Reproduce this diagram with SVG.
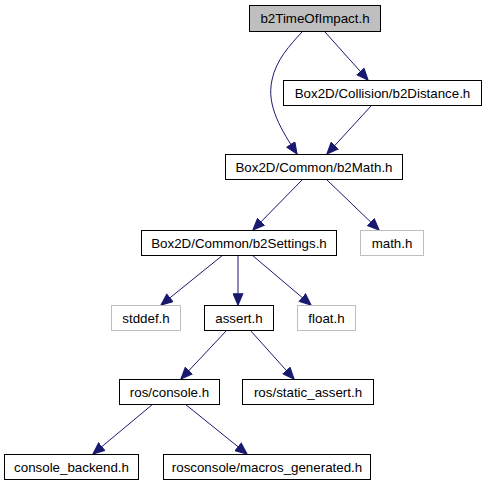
<svg xmlns="http://www.w3.org/2000/svg" width="487" height="485" viewBox="0 0 487 485">
<style>
.n rect{fill:#fff;stroke:#000;stroke-width:1}
.n.g rect{stroke:#bfbfbf}
.n.root rect{fill:#bfbfbf}
.n text{font-family:"Liberation Sans",Arial,sans-serif;font-size:13.33px;text-anchor:middle;fill:#000}
.e path{fill:none;stroke:#191970;stroke-width:1;marker-end:url(#ah)}
</style>
<defs>
<marker id="ah" markerUnits="userSpaceOnUse" markerWidth="13" markerHeight="11" viewBox="0 0 11 9" refX="10" refY="4.5" orient="auto">
<path d="M0.5,0.5 L10,4.5 L0.5,8.5 Z" fill="#191970" stroke="#191970"/>
</marker>
</defs>
<rect width="487" height="485" fill="#fff"/>
<g id="edges" class="e">
<path d="M302,32 C290,45 276,60 272,80 C266,106 282,131 297,154"/>
<path d="M325,32 L368,80"/>
<path d="M371,106 L327,154"/>
<path d="M302,180 L253,230"/>
<path d="M327,180 L379,230"/>
<path d="M223,255 L161,305"/>
<path d="M238,255 L238,305"/>
<path d="M252,255 L311,305"/>
<path d="M227,330 L181,379"/>
<path d="M250,330 L294,379"/>
<path d="M153,404 L93,454"/>
<path d="M185,404 L247,454"/>
</g>
<g id="n_b2TimeOfImpact" class="n root"><rect x="249.5" y="5.5" width="131" height="26"/><text x="315" y="23">b2TimeOfImpact.h</text></g>
<g id="n_b2Distance" class="n"><rect x="283.5" y="80.5" width="198" height="25"/><text x="382.5" y="97.5">Box2D/Collision/b2Distance.h</text></g>
<g id="n_b2Math" class="n"><rect x="225.5" y="154.5" width="177" height="25"/><text x="314" y="171.5">Box2D/Common/b2Math.h</text></g>
<g id="n_b2Settings" class="n"><rect x="141.5" y="230.5" width="195" height="25"/><text x="239" y="247.5">Box2D/Common/b2Settings.h</text></g>
<g id="n_math" class="n g"><rect x="360.5" y="230.5" width="63" height="25"/><text x="392" y="247.5">math.h</text></g>
<g id="n_stddef" class="n g"><rect x="111.5" y="305.5" width="69" height="25"/><text x="146" y="322.5">stddef.h</text></g>
<g id="n_assert" class="n"><rect x="204.5" y="305.5" width="69" height="25"/><text x="239" y="322.5">assert.h</text></g>
<g id="n_float" class="n g"><rect x="297.5" y="305.5" width="58" height="25"/><text x="326.5" y="322.5">float.h</text></g>
<g id="n_console" class="n"><rect x="119.5" y="379.5" width="100" height="25"/><text x="169.5" y="396.5">ros/console.h</text></g>
<g id="n_static_assert" class="n"><rect x="242.5" y="379.5" width="131" height="25"/><text x="308" y="396.5">ros/static_assert.h</text></g>
<g id="n_console_backend" class="n"><rect x="4.5" y="454.5" width="134" height="25"/><text x="71.5" y="471.5">console_backend.h</text></g>
<g id="n_macros" class="n"><rect x="163.5" y="454.5" width="207" height="25"/><text x="267" y="471.5">rosconsole/macros_generated.h</text></g>
</svg>
